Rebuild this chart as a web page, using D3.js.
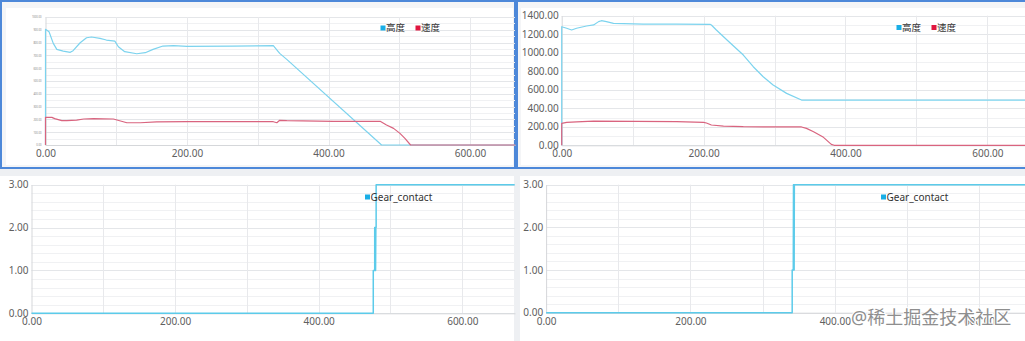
<!DOCTYPE html>
<html><head><meta charset="utf-8">
<script src="https://cdn.jsdelivr.net/npm/d3@7/dist/d3.min.js"></script>
<style>
html,body{margin:0;padding:0;background:#eef0f3;}
svg{display:block;}
text{font-family:"Noto Sans","Noto Sans CJK SC",sans-serif;}
</style></head>
<body>
<svg id="c" width="1025" height="341"></svg>
<script>
// ---------- data ----------
const xTicks = [0, 200, 400, 600];
const tlYTicks = [0, 100, 200, 300, 400, 500, 600, 700, 800, 900, 1000];
const trYTicks = [0, 200, 400, 600, 800, 1000, 1200, 1400];
const gearYTicks = [0, 1, 2, 3];
const legendTop = ["高度", "速度"];
const legendBottom = ["Gear_contact"];

// top-left flight: [time, value]
const tlHeight = [[0,0],[0,904],[5,885],[11,794],[16,747],[25,734],[35,724],[39,737],[49,799],[58,838],[65,844],[77,833],[86,820],[98,812],[103,768],[112,729],[129,713],[141,721],[152,747],[166,773],[181,776],[200,771],[265,773],[322,776],[331,716],[341,669],[475,0],[664,0]];
const tlSpeed = [[0,0],[0,216],[9,216],[13,206],[23,190],[30,190],[44,195],[54,203],[68,206],[96,203],[101,195],[115,174],[134,174],[157,180],[200,182],[265,182],[322,182],[327,174],[331,193],[341,190],[407,185],[473,185],[482,156],[492,130],[501,91],[508,52],[516,0],[664,0]];

// top-right flight
const trHeight = [[0,0],[0,1281],[7,1264],[14,1246],[21,1264],[35,1289],[45,1300],[52,1336],[56,1346],[63,1336],[73,1318],[115,1310],[162,1310],[209,1307],[211,1300],[218,1246],[233,1138],[256,975],[270,849],[284,741],[298,651],[317,561],[338,489],[653,489]];
const trSpeed = [[0,0],[0,237],[7,248],[21,252],[45,262],[162,255],[200,248],[204,241],[211,219],[228,208],[256,201],[303,198],[338,198],[345,183],[355,147],[369,86],[380,10],[384,0],[653,0]];

// gear contact
const blGear = [[0,0],[476,0],[476,1],[478,1],[478,2],[478.4,1],[478.8,2],[479.2,1],[479.6,2],[480,2],[480,3],[673,3]];
const brGear = [[0,0],[341,0],[341,1],[342.5,1],[342.8,3],[343.1,1],[343.4,3],[343.7,1],[344,3],[664,3]];

// ---------- drawing ----------
const svg = d3.select("#c");
const BLUE_LINE = "#7cd3ee", RED_LINE = "#d9647f";
const BLUE_KEY = "#19aee6", RED_KEY = "#e0163f";
const GEAR_LINE = "#5ccbea";

// panel backgrounds
svg.append("rect").attr("x",0).attr("y",0).attr("width",1025).attr("height",341).attr("fill","#eef0f3");
svg.append("rect").attr("x",1).attr("y",1).attr("width",514).attr("height",167).attr("fill","#f4f5f7").attr("stroke","#4d88d9").attr("stroke-width",2);
svg.append("rect").attr("x",6).attr("y",8).attr("width",507).attr("height",157).attr("fill","#fff");
svg.append("rect").attr("x",517).attr("y",1).attr("width",509).attr("height",167).attr("fill","#f4f5f7").attr("stroke","#4d88d9").attr("stroke-width",2);
svg.append("rect").attr("x",521).attr("y",8).attr("width",504).attr("height",157).attr("fill","#fff");
svg.append("rect").attr("x",0).attr("y",176).attr("width",514).attr("height",165).attr("fill","#fff");
svg.append("rect").attr("x",520).attr("y",176).attr("width",505).attr("height",165).attr("fill","#fff");

function panel(o) {
  const g = svg.append("g");
  const x = d3.scaleLinear().domain([0, o.xMax]).range([o.x0, o.x1]);
  const y = d3.scaleLinear().domain([0, o.yMax]).range([o.yBottom, o.yTop]);
  // minor horizontal grid
  const minor = d3.range(0, o.yMax + 1e-9, o.minorStep);
  g.selectAll(null).data(minor).join("line")
    .attr("x1", o.x0).attr("x2", o.x1)
    .attr("y1", d => Math.round(y(d)) + 0.5).attr("y2", d => Math.round(y(d)) + 0.5)
    .attr("stroke", "#f0f1f3").attr("stroke-width", 1);
  // major horizontal grid
  g.selectAll(null).data(o.yTicks).join("line")
    .attr("x1", o.x0).attr("x2", o.x1)
    .attr("y1", d => Math.round(y(d)) + 0.5).attr("y2", d => Math.round(y(d)) + 0.5)
    .attr("stroke", "#e4e6e9").attr("stroke-width", 1);
  // vertical grid every 100
  const vx = d3.range(100, o.xMax, 100);
  g.selectAll(null).data(vx).join("line")
    .attr("x1", d => Math.round(x(d)) + 0.5).attr("x2", d => Math.round(x(d)) + 0.5)
    .attr("y1", o.yTop).attr("y2", o.yBottom)
    .attr("stroke", "#e8e9ec").attr("stroke-width", 1);

  // axes
  const xa = d3.axisBottom(x).tickValues(xTicks).tickFormat(d3.format(".2f")).tickSize(0).tickPadding(o.xPad);
  const xg = g.append("g").attr("transform", `translate(0,${o.yBottom})`).call(xa);
  xg.select(".domain").attr("stroke", "#d5d7da");
  xg.selectAll("text").attr("fill", "#606060").attr("font-size", o.xFont).attr("font-family", '"Noto Sans",sans-serif');
  const ya = d3.axisLeft(y).tickValues(o.yTicks).tickFormat(d3.format(".2f")).tickSize(0).tickPadding(o.yPad);
  const yg = g.append("g").attr("transform", `translate(${o.x0},0)`).call(ya);
  yg.select(".domain").attr("stroke", "#d5d7da");
  yg.selectAll("text").attr("fill", o.yColor || "#606060").attr("font-size", o.yFont).attr("font-family", '"Noto Sans",sans-serif');

  const line = d3.line().x(d => x(d[0])).y(d => y(d[1]));
  o.series.forEach(s => {
    g.append("path").datum(s.data).attr("d", line)
      .attr("fill", "none").attr("stroke", s.color).attr("stroke-width", s.width || 1.2)
      .attr("stroke-linejoin", "round");
  });

  // legend
  let lx = o.legendX;
  o.legend.forEach((name, i) => {
    g.append("rect").attr("x", lx).attr("y", o.legendY - 2.5).attr("width", 5).attr("height", 5).attr("fill", o.keyColors[i]);
    const t = g.append("text").attr("x", lx + 5.5).attr("y", o.legendY).attr("dy", "0.35em")
      .attr("font-size", o.legendFont).attr("fill", "#333").text(name)
      .attr("font-family", '"Noto Sans CJK SC","Noto Sans",sans-serif');
    lx += o.legendGap;
  });
}

panel({
  x0: 45.5, x1: 515, xMax: 663.6, yTop: 17, yBottom: 145, yMax: 1000,
  yTicks: tlYTicks, minorStep: 50, xPad: 5, yPad: 4, xFont: 10, yFont: 2.6, yColor: "#8a8a8a",
  series: [{data: tlHeight, color: BLUE_LINE}, {data: tlSpeed, color: RED_LINE}],
  legend: legendTop, keyColors: [BLUE_KEY, RED_KEY], legendX: 380.5, legendY: 28, legendGap: 35, legendFont: 9.5
});
panel({
  x0: 561.7, x1: 1025, xMax: 653, yTop: 15.7, yBottom: 145.3, yMax: 1400,
  yTicks: trYTicks, minorStep: 100, xPad: 5, yPad: 3, xFont: 10, yFont: 10,
  series: [{data: trHeight, color: BLUE_LINE}, {data: trSpeed, color: RED_LINE}],
  legend: legendTop, keyColors: [BLUE_KEY, RED_KEY], legendX: 896.5, legendY: 27.5, legendGap: 35, legendFont: 9.5
});
panel({
  x0: 31.5, x1: 515, xMax: 673.4, yTop: 184.7, yBottom: 313.3, yMax: 3,
  yTicks: gearYTicks, minorStep: 0.2, xPad: 5, yPad: 3, xFont: 10, yFont: 10,
  series: [{data: blGear, color: GEAR_LINE, width: 1.5}],
  legend: legendBottom, keyColors: [BLUE_KEY], legendX: 365, legendY: 197, legendGap: 60, legendFont: 10
});
panel({
  x0: 546.1, x1: 1025, xMax: 663.6, yTop: 184.7, yBottom: 312.7, yMax: 3,
  yTicks: gearYTicks, minorStep: 0.2, xPad: 5, yPad: 3, xFont: 10, yFont: 10,
  series: [{data: brGear, color: GEAR_LINE, width: 1.5}],
  legend: legendBottom, keyColors: [BLUE_KEY], legendX: 881, legendY: 197, legendGap: 60, legendFont: 10
});

// watermark
svg.append("text").attr("x", 851).attr("y", 324)
  .attr("font-size", 18).attr("fill", "#8e8e8e")
  .attr("stroke", "#fff").attr("stroke-width", 2).attr("paint-order", "stroke")
  .attr("font-family", '"Noto Sans CJK SC",sans-serif')
  .text("@稀土掘金技术社区");
</script>
</body></html>
